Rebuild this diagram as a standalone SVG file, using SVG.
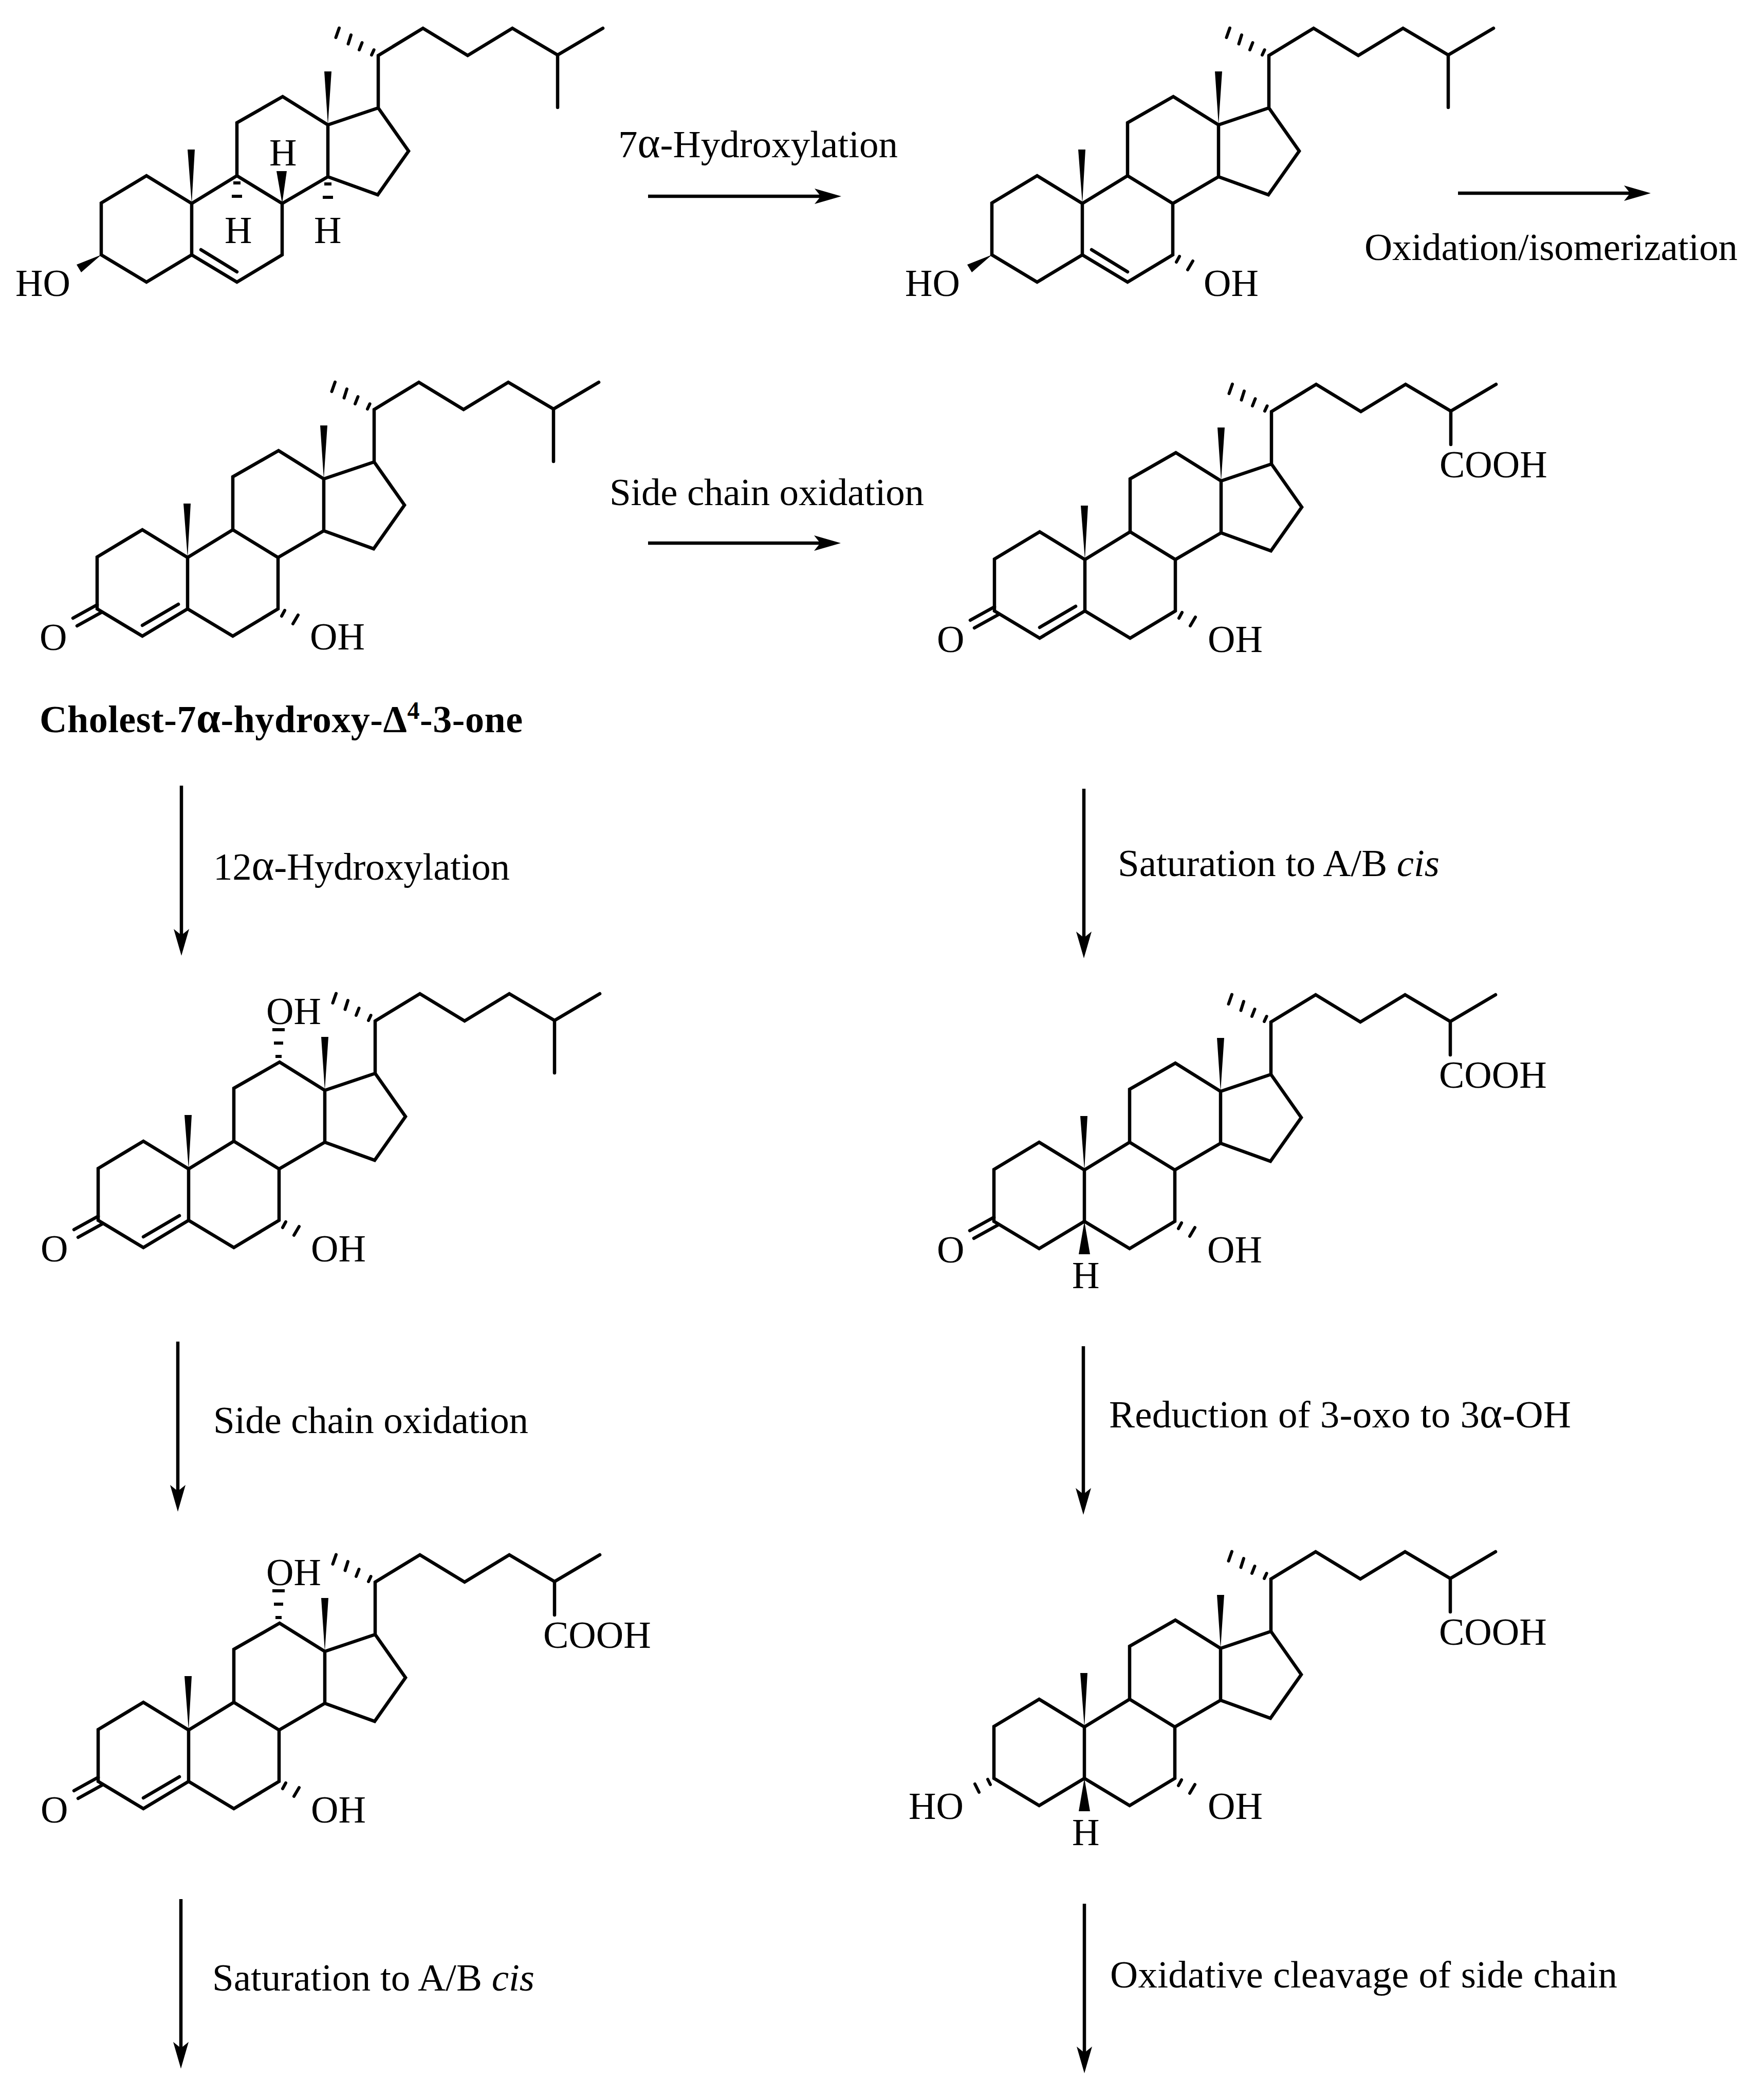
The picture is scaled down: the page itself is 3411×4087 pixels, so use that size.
<svg xmlns="http://www.w3.org/2000/svg" xmlns:xlink="http://www.w3.org/1999/xlink" width="3411" height="4087" viewBox="0 0 3411 4087">
<style>
.b{fill:none;stroke:#000;stroke-width:6.5;stroke-linejoin:miter;stroke-linecap:round}
.h{fill:none;stroke:#000;stroke-width:6;stroke-linecap:round}
.a{fill:none;stroke:#000;stroke-width:6.5;marker-end:url(#head)}
.w{fill:#000;stroke:none}
text{font-family:"Liberation Serif","Times New Roman",serif;font-size:74px;fill:#000}
.l{font-size:75px}
.g{font-size:84px}
.cap{font-weight:bold}
</style>
<defs>
<marker id="head" markerUnits="userSpaceOnUse" viewBox="-12 -16 52 32" refX="0" refY="0" markerWidth="52" markerHeight="32" orient="auto" overflow="visible">
<path d="M40,0 L-12,-15 L0,0 L-12,15 Z" fill="#000"/>
</marker>
<g id="steroid">
<path class="b" d="M0,0 L88,53 L176,0 L264,53 L352,0 L352,-100 L264,-154 L176,-100 L88,-154 L0,-101 Z"/>
<path class="b" d="M176,0 L176,-100 M264,-154 L264,-257 L353,-308 L441,-253 L441,-152 L352,-100 M441,-253 L539,-286 L598,-202 L538,-117 L441,-152 M539,-286 L539,-388 L626,-441 L713,-388 L800,-441 L888,-389 L976,-441"/>
<path class="w" d="M434,-357 L448,-357 L441,-253 Z M168,-205 L182,-205 L176,-100 Z"/>
<path class="h" d="M463,-441.5 L456.5,-423 M486,-428 L480.5,-410.5 M507.5,-413 L502,-399 M530.6,-399 L526,-389"/>
</g>
<path id="iso" class="b" d="M888,-389 L888,-287"/>
<g id="acid">
<path class="b" d="M888,-389 L888,-324"/>
<text x="866" y="-260">COOH</text>
</g>
<g id="enone">
<path class="b" d="M88,32 L158,-9 M0,-8 L-47,18 M8,7 L-39,33"/>
<text x="-112" y="80">O</text>
</g>
<path id="oh7" class="h" d="M365,3 L359,14 M391,12 L381,29"/>
<g id="oh12">
<path class="w" d="M339,-374 h24 v6 h-24 Z M342,-348 h18 v6 h-18 Z M345,-322 h12 v6 h-12 Z"/>
<text x="327" y="-382">OH</text>
</g>
<g id="hbeta">
<path class="w" d="M176,0 L165,64 L187,64 Z"/>
<text x="152" y="130">H</text>
</g>
<path id="beta3" class="w" d="M0,0 L-48,19 L-39,34 Z"/>
<path id="db56" class="b" d="M194,-10 L264,33"/>
</defs>

<g id="connectors">
<line class="a" x1="1261" y1="382" x2="1597" y2="382"/>
<line class="a" x1="2837" y1="376" x2="3172" y2="376"/>
<line class="a" x1="1261" y1="1057" x2="1596" y2="1057"/>
<line class="a" x1="353" y1="1529" x2="353" y2="1820"/>
<line class="a" x1="2109" y1="1535" x2="2109" y2="1825"/>
<line class="a" x1="346" y1="2611" x2="346" y2="2902"/>
<line class="a" x1="2108" y1="2620" x2="2108" y2="2908"/>
<line class="a" x1="352" y1="3696" x2="352" y2="3986"/>
<line class="a" x1="2110" y1="3705" x2="2110" y2="3995"/>
</g>

<g id="labels">
<text class="l" x="1203" y="306" textLength="544"><tspan>7</tspan><tspan class="g">α</tspan><tspan>-Hydroxylation</tspan></text>
<text class="l" x="2655" y="506" textLength="726">Oxidation/isomerization</text>
<text class="l" x="1186" y="983" textLength="612">Side chain oxidation</text>
<text class="cap" x="77" y="1425" textLength="940">Cholest-7<tspan class="g">α</tspan>-hydroxy-Δ<tspan font-size="48" dy="-26">4</tspan><tspan dy="26">-3-one</tspan></text>
<text class="l" x="415" y="1712" textLength="577">12<tspan class="g">α</tspan>-Hydroxylation</text>
<text class="l" x="2175" y="1705" textLength="626">Saturation to A/B <tspan font-style="italic">cis</tspan></text>
<text class="l" x="415" y="2789" textLength="613">Side chain oxidation</text>
<text class="l" x="2158" y="2778" textLength="899">Reduction of 3-oxo to 3<tspan class="g">α</tspan>-OH</text>
<text class="l" x="413" y="3874" textLength="627">Saturation to A/B <tspan font-style="italic">cis</tspan></text>
<text class="l" x="2160" y="3868" textLength="987">Oxidative cleavage of side chain</text>
</g>

<g id="mol1" transform="translate(197,496)">
<use href="#steroid"/><use href="#iso"/><use href="#db56"/><use href="#beta3"/>
<path class="w" d="M257,-143 h14 v6 h-14 Z M254,-117 h20 v6 h-20 Z M434,-141 h14 v6 h-14 Z M431,-115 h20 v6 h-20 Z M352,-100 L341,-163 L361,-163 Z"/>
<text x="-167" y="80">HO</text>
<text x="240" y="-23">H</text>
<text x="414" y="-23">H</text>
<text x="327" y="-174">H</text>
</g>
<g id="mol2" transform="translate(1930,496)">
<use href="#steroid"/><use href="#iso"/><use href="#db56"/><use href="#beta3"/><use href="#oh7"/>
<text x="-169" y="80">HO</text>
<text x="412" y="80">OH</text>
</g>
<g id="mol3" transform="translate(189,1185)">
<use href="#steroid"/><use href="#iso"/><use href="#enone"/><use href="#oh7"/>
<text x="414" y="79">OH</text>
</g>
<g id="mol4" transform="translate(1935,1189)">
<use href="#steroid"/><use href="#acid"/><use href="#enone"/><use href="#oh7"/>
<text x="415" y="80">OH</text>
</g>
<g id="mol5" transform="translate(191,2375)">
<use href="#steroid"/><use href="#iso"/><use href="#enone"/><use href="#oh7"/><use href="#oh12"/>
<text x="414" y="80">OH</text>
</g>
<g id="mol6" transform="translate(1934,2377)">
<use href="#steroid"/><use href="#acid"/><use href="#hbeta"/><use href="#oh7"/>
<path class="b" d="M0,-8 L-47,18 M8,7 L-39,33"/>
<text x="-111" y="80">O</text>
<text x="415" y="80">OH</text>
</g>
<g id="mol7" transform="translate(191,3467)">
<use href="#steroid"/><use href="#acid"/><use href="#enone"/><use href="#oh7"/><use href="#oh12"/>
<text x="414" y="80">OH</text>
</g>
<g id="mol8" transform="translate(1934,3461)">
<use href="#steroid"/><use href="#acid"/><use href="#hbeta"/><use href="#oh7"/>
<path class="h" d="M-12,2 L-7,12 M-37,11 L-29,27"/>
<text x="-166" y="79">HO</text>
<text x="416" y="79">OH</text>
</g>
</svg>
